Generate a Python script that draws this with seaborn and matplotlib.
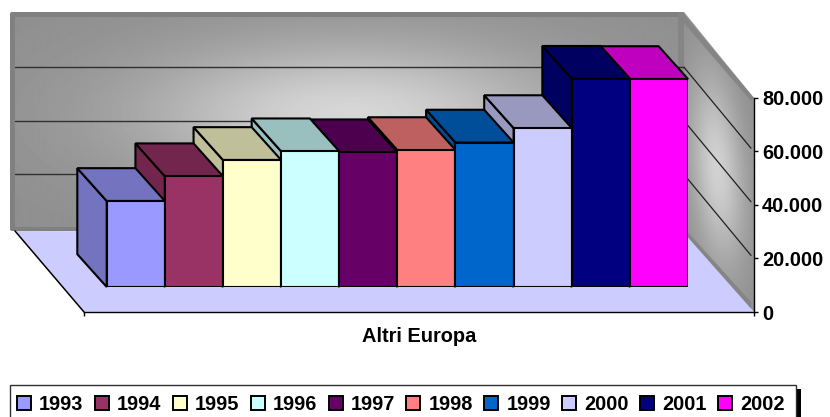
import numpy as np
import seaborn as sns
import matplotlib.pyplot as plt
from matplotlib.patches import Polygon, Rectangle, Patch, FancyBboxPatch
from matplotlib.ticker import FuncFormatter

years = ['1993', '1994', '1995', '1996', '1997', '1998', '1999', '2000', '2001', '2002']
values = [32100, 41340, 47400, 50650, 50280, 51100, 53900, 59300, 77700, 77600]
colors = ['#9999FF', '#993366', '#FFFFCC', '#CCFFFF', '#660066',
          '#FF8080', '#0066CC', '#CCCCFF', '#000080', '#FF00FF']
axisTicks = [0, 20000, 40000, 60000, 80000]
xTitle = 'Altri Europa'

W, H = 830, 417
PX_PER_UNIT = 53.6 / 20000
DEPTH_X = -29.4 / 58.13
DEPTH_Y = 32.8 / PX_PER_UNIT / 1


def axes_box(left, top, right, bottom):
    return [left / W, 1 - bottom / H, (right - left) / W, (bottom - top) / H]


def darker(col, f=0.75):
    r, g, b = plt.matplotlib.colors.to_rgb(col)
    return (r * f, g * f, b * f)


sns.set_theme(style='white')
plt.rcParams['font.family'] = ['Liberation Sans', 'DejaVu Sans']
plt.rcParams['font.weight'] = 'bold'
plt.rcParams['font.size'] = 14.4

fig = plt.figure(figsize=(W / 100, H / 100), dpi=100)

# walls and floor, in pixel coordinates
bg = fig.add_axes([0, 0, 1, 1], zorder=0)
bg.set_xlim(0, W)
bg.set_ylim(H, 0)
bg.axis('off')

bg.add_patch(FancyBboxPatch((11, 13), 672, 217, boxstyle='round,pad=1,rounding_size=2',
                            fc='#808080', ec='none', zorder=0.2))

xx, yy = np.meshgrid(np.arange(15, 679), np.arange(17, 227))
shade = 0.56 + 0.28 * np.exp(-((xx - 350) / 210.0) ** 2 - ((yy - 115) / 72.0) ** 2)
bg.imshow(shade, extent=(15, 679, 227, 17), cmap='gray', vmin=0, vmax=1, aspect='auto', zorder=0.5)

xx, yy = np.meshgrid(np.arange(684, 755), np.arange(12, 313))
yc = 135 + (xx - 684) * 1.0
shade = 0.56 + 0.26 * np.exp(-((xx - 717) / 27.0) ** 2 - ((yy - yc) / 90.0) ** 2)
im = bg.imshow(shade, extent=(684, 755, 313, 12), cmap='gray', vmin=0, vmax=1, aspect='auto', zorder=0.5)
im.set_clip_path(Polygon([(684, 12), (754, 98), (754, 312), (684, 233)],
                         transform=bg.transData))
bg.set_xlim(0, W)
bg.set_ylim(H, 0)

bg.add_patch(Polygon([(678, 12), (684, 12), (684, 232), (678, 232)], fc='#858585', ec='none'))
bg.add_patch(Polygon([(682, 12), (754, 98), (751, 101), (684, 23)], fc='#858585', ec='none'))
bg.add_patch(Polygon([(684, 228), (751, 302), (751, 312), (684, 238)], fc='#858585', ec='none'))
bg.add_patch(Polygon([(15, 231), (84, 312), (754, 312), (684, 233)], fc='#CCCCFF', ec='none'))
bg.plot([15, 84], [231, 312], color='black', lw=1.1)

for v in axisTicks[1:-1]:
    front = 312 - v * PX_PER_UNIT
    bg.plot([15, 684], [front - 84, front - 84], color='#303030', lw=1.0)
    bg.plot([684, 751], [front - 84, front - 3], color='#202020', lw=0.9)

# legend frame runs past the bottom of the picture
bg.add_patch(Rectangle((796, 389), 5, 40, fc='black', ec='none'))
bg.add_patch(Rectangle((10, 385), 786, 40, fc='white', ec='#303030', lw=1.0))

# front plane: value axis and floor edge
frame = fig.add_axes(axes_box(84, 97.6, 754, 312), zorder=1)
frame.patch.set_alpha(0)
frame.set_xlim(0, 1)
frame.set_ylim(0, 80000)
for s in ['top', 'left']:
    frame.spines[s].set_visible(False)
for s in ['right', 'bottom']:
    frame.spines[s].set_color('black')
    frame.spines[s].set_linewidth(1.0)
frame.yaxis.tick_right()
frame.set_yticks(axisTicks)
frame.yaxis.set_major_formatter(FuncFormatter(lambda v, p: f'{int(v):,}'.replace(',', '.')))
frame.tick_params(axis='y', which='major', right=True, left=False, length=3.2, width=1.0,
                  pad=2.5, labelsize=14.4, color='black', labelcolor='black')
frame.set_xticks([0, 1])
frame.set_xticklabels(['', ''])
frame.tick_params(axis='x', which='major', bottom=True, length=3.2, width=1.0, color='black', pad=0)
frame.set_xlabel(xTitle, fontsize=14.4, fontweight='bold', color='black', labelpad=7.5)

# the bars
ax = fig.add_axes(axes_box(106.7, 287 - 80000 * PX_PER_UNIT, 688, 287), zorder=2)
ax.patch.set_alpha(0)
sns.barplot(x=years, y=values, hue=years, palette=colors, saturation=1, width=1,
            edgecolor='black', linewidth=1.5, legend=False, ax=ax, zorder=3)
ax.set_xlim(-0.5, 9.5)
ax.set_ylim(0, 80000)
ax.axis('off')

for i in range(len(years) - 1, -1, -1):
    l, r, v = i - 0.5, i + 0.5, values[i]
    side = [(l, 0), (l + DEPTH_X, DEPTH_Y), (l + DEPTH_X, v + DEPTH_Y), (l, v)]
    top = [(l, v), (l + DEPTH_X, v + DEPTH_Y), (r + DEPTH_X, v + DEPTH_Y), (r, v)]
    for pts in (side, top):
        ax.add_patch(Polygon(pts, fc=darker(colors[i]), ec='black', lw=1.5, clip_on=False,
                             joinstyle='miter', zorder=2))

handles = [Patch(fc=c, ec='black', lw=1.4, label=y) for c, y in zip(colors, years)]
fig.legend(handles=handles, loc='upper left', bbox_to_anchor=(11 / W, 1 - 389 / H),
           ncol=10, frameon=False, fontsize=14.4, borderpad=0.3, borderaxespad=0,
           handlelength=0.7, handleheight=0.7, handletextpad=0.4, columnspacing=0.575,
           labelcolor='black')

fig.savefig('out.png', dpi=100)
